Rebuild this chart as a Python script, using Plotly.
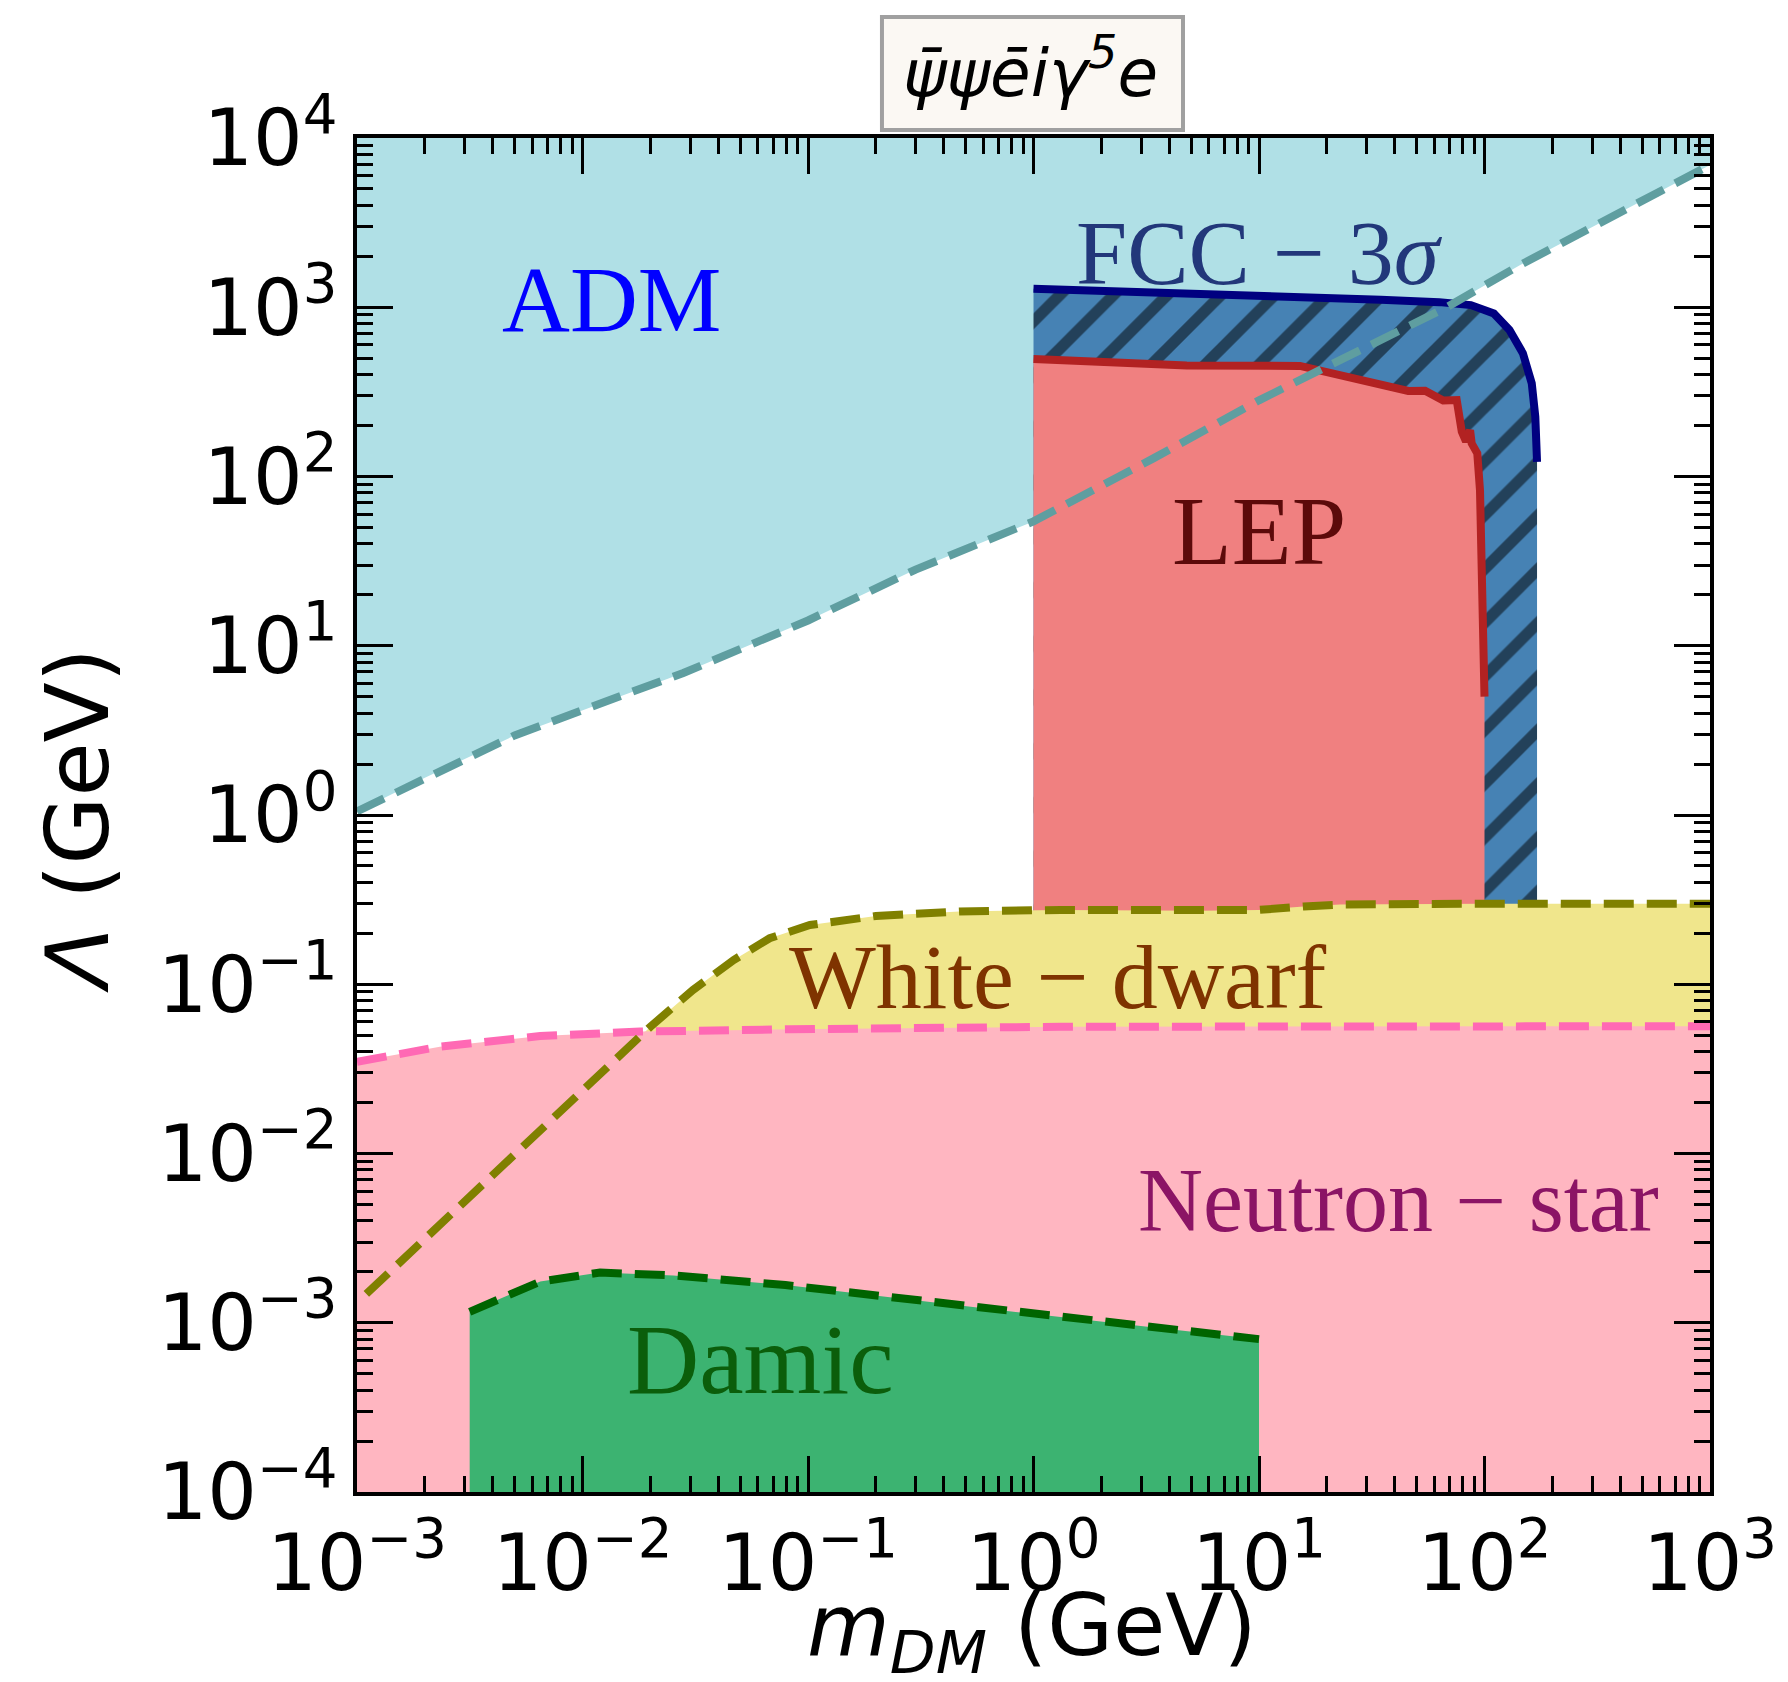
import plotly.graph_objects as go

# ---------------- data (m_DM in GeV, Lambda in GeV) ----------------
X_MIN, X_MAX = 1e-3, 1e3
Y_MIN, Y_MAX = 1e-4, 1e4

adm_m = [1e-3, 2e-3, 5e-3, 1e-2, 2.8e-2, 0.1, 0.3, 1.0, 3.4, 10.0, 68.0, 144.0, 1e3]
adm_lam = [1.05, 1.66, 2.95, 4.17, 6.9, 14.1, 28.2, 54.3, 128.0, 282.0, 1000.0, 1778.0, 6918.0]

fcc_m = [1.0, 4.8, 15.8, 34.7, 63.0, 87.0, 110.0, 129.0, 148.0, 162.0, 168.0, 171.0]
fcc_lam = [1288.0, 1216.0, 1161.0, 1109.0, 1072.0, 1030.0, 920.0, 735.0, 535.0, 355.0, 225.0, 122.0]

lep_m = [1.0, 4.78, 15.2, 25.4, 35.6, 45.9, 54.5, 65.6, 75.3, 79.3, 82.8, 86.3, 87.7, 92.9, 95.5, 100.0]
lep_lam = [494.0, 452.0, 450.0, 385.0, 339.0, 320.0, 321.0, 281.0, 283.0, 184.0, 161.0, 188.0, 157.0, 137.0, 83.0, 5.0]

wd_m = [1.1e-3, 7.94e-3, 0.02, 0.0309, 0.0468, 0.0676, 0.102, 0.2, 0.468, 1.32, 5.5, 10.0, 15.8, 22.9, 100.0, 1e3]
wd_lam = [1.48e-3, 0.01726, 0.0561, 0.0925, 0.139, 0.187, 0.224, 0.253, 0.269, 0.275, 0.272, 0.275, 0.288, 0.296, 0.299, 0.299]

ns_m = [1e-3, 2.33e-3, 6.49e-3, 0.018, 0.083, 1.32, 1e3]
ns_lam = [0.0348, 0.0428, 0.0494, 0.0525, 0.0542, 0.0561, 0.0565]

damic_m = [3.16e-3, 4.31e-3, 6.49e-3, 0.01197, 0.0253, 0.0794, 0.815, 10.0]
damic_lam = [1.16e-3, 1.39e-3, 1.75e-3, 1.98e-3, 1.905e-3, 1.67e-3, 1.16e-3, 8.0e-4]

decades_x = [-3, -2, -1, 0, 1, 2, 3]
decades_y = [-4, -3, -2, -1, 0, 1, 2, 3, 4]


def label(p):
    s = ("\u2212" + str(abs(p))) if p < 0 else str(p)
    return "10<sup>" + s + "</sup>"


def minor_vals(decs):
    out = []
    for d in decs[:-1]:
        for k in range(2, 10):
            out.append(k * 10.0 ** d)
    return out


def above(xs, ys):
    return list(xs) + [xs[-1], xs[0], xs[0]], list(ys) + [Y_MAX, Y_MAX, ys[0]]


def below(xs, ys):
    return list(xs) + [xs[-1], xs[0], xs[0]], list(ys) + [Y_MIN, Y_MIN, ys[0]]


fig = go.Figure()

# ---- fills ----
px, py = above(adm_m, adm_lam)
fig.add_trace(go.Scatter(x=px, y=py, mode="lines", line=dict(width=0),
                         fill="toself", fillcolor="#B0E0E6", hoverinfo="skip"))
px, py = below(fcc_m, fcc_lam)
fig.add_trace(go.Scatter(x=px, y=py, mode="lines", line=dict(width=0),
                         fill="toself", fillcolor="#4682B4",
                         fillpattern=dict(shape="/", bgcolor="#4682B4", fgcolor="black",
                                          size=38, solidity=0.3),
                         hoverinfo="skip"))
px, py = below(lep_m, lep_lam)
fig.add_trace(go.Scatter(x=px, y=py, mode="lines", line=dict(width=0),
                         fill="toself", fillcolor="#F08080", hoverinfo="skip"))
px, py = below(wd_m, wd_lam)
fig.add_trace(go.Scatter(x=px, y=py, mode="lines", line=dict(width=0),
                         fill="toself", fillcolor="#F0E68C", hoverinfo="skip"))
px, py = below(ns_m, ns_lam)
fig.add_trace(go.Scatter(x=px, y=py, mode="lines", line=dict(width=0),
                         fill="toself", fillcolor="#FFB6C1", hoverinfo="skip"))
px, py = below(damic_m, damic_lam)
fig.add_trace(go.Scatter(x=px, y=py, mode="lines", line=dict(width=0),
                         fill="toself", fillcolor="#3CB371", hoverinfo="skip"))

# ---- boundary lines ----
DASH = "30px,13px"
LW = 8
fig.add_trace(go.Scatter(x=fcc_m, y=fcc_lam, mode="lines",
                         line=dict(color="#000080", width=LW)))
fig.add_trace(go.Scatter(x=lep_m, y=lep_lam, mode="lines",
                         line=dict(color="#B22222", width=LW)))
fig.add_trace(go.Scatter(x=ns_m, y=ns_lam, mode="lines",
                         line=dict(color="#FF69B4", width=LW, dash=DASH)))
fig.add_trace(go.Scatter(x=wd_m, y=wd_lam, mode="lines",
                         line=dict(color="#808000", width=LW, dash=DASH)))
fig.add_trace(go.Scatter(x=damic_m, y=damic_lam, mode="lines",
                         line=dict(color="#006400", width=LW, dash=DASH)))
fig.add_trace(go.Scatter(x=adm_m, y=adm_lam, mode="lines",
                         line=dict(color="#5F9EA0", width=LW, dash=DASH)))

axis_common = dict(
    type="log", showline=True, linecolor="black", linewidth=4, mirror="allticks",
    ticks="inside", ticklen=36, tickwidth=3, tickcolor="black",
    showgrid=False, zeroline=False,
    tickfont=dict(family="DejaVu Sans", size=78, color="black"),
    tickmode="array",
)

fig.update_xaxes(**axis_common, range=[-3, 3],
                 tickvals=[10.0 ** d for d in decades_x],
                 ticktext=[label(d) for d in decades_x],
                 minor=dict(tickmode="array", tickvals=minor_vals(decades_x), ticks="inside",
                            ticklen=16, tickwidth=3, tickcolor="black", showgrid=False))
fig.update_yaxes(**axis_common, range=[-4, 4],
                 tickvals=[10.0 ** d for d in decades_y],
                 ticktext=[label(d) for d in decades_y],
                 minor=dict(tickmode="array", tickvals=minor_vals(decades_y), ticks="inside",
                            ticklen=16, tickwidth=3, tickcolor="black", showgrid=False))

SERIF = "Liberation Serif"
annots = [
    dict(text="ADM", x=-1.87, y=3.05, color="#0000FF", size=94),
    dict(text="FCC \u2212 3<i>\u03c3</i>", x=1.0, y=3.32, color="#22377A", size=92),
    dict(text="LEP", x=1.0, y=1.68, color="#5C0A0A", size=98),
    dict(text="White \u2212 dwarf", x=0.11, y=-0.96, color="#7F3300", size=92),
    dict(text="Neutron \u2212 star", x=1.62, y=-2.28, color="#8B1465", size=90),
    dict(text="Damic", x=-1.21, y=-3.22, color="#0B5E0B", size=100),
]
for a in annots:
    fig.add_annotation(x=a["x"], y=a["y"], xref="x", yref="y", text=a["text"],
                       showarrow=False, xanchor="center", yanchor="middle",
                       font=dict(family=SERIF, size=a["size"], color=a["color"]))

# title box
fig.add_shape(type="rect", xref="paper", yref="paper",
              x0=0.388, x1=0.6105, y0=1.0059, y1=1.0894,
              line=dict(color="#A0A0A0", width=4), fillcolor="#FBF8F3")
fig.add_annotation(xref="paper", yref="paper", x=0.498, y=1.051,
                   text="<i>\u03c8\u0304\u03c8\u0113i\u03b3<sup>5</sup>e</i>",
                   showarrow=False, xanchor="center", yanchor="middle",
                   font=dict(family="DejaVu Sans", size=66, color="black"))

# axis titles
fig.add_annotation(xref="paper", yref="paper", x=0.499, y=-0.103,
                   text="<i>m</i><sub><i>DM</i></sub> (GeV)", showarrow=False,
                   xanchor="center", yanchor="middle",
                   font=dict(family="DejaVu Sans", size=85, color="black"))
fig.add_annotation(xref="paper", yref="paper", x=-0.206, y=0.4956,
                   text="<i>\u039b</i> (GeV)", showarrow=False, textangle=-90,
                   xanchor="center", yanchor="middle",
                   font=dict(family="DejaVu Sans", size=88, color="black"))

fig.update_layout(
    width=1788, height=1682, autosize=False,
    margin=dict(l=357, r=78, t=138, b=190),
    paper_bgcolor="white", plot_bgcolor="white",
    showlegend=False,
)

fig.write_html("out.html")
